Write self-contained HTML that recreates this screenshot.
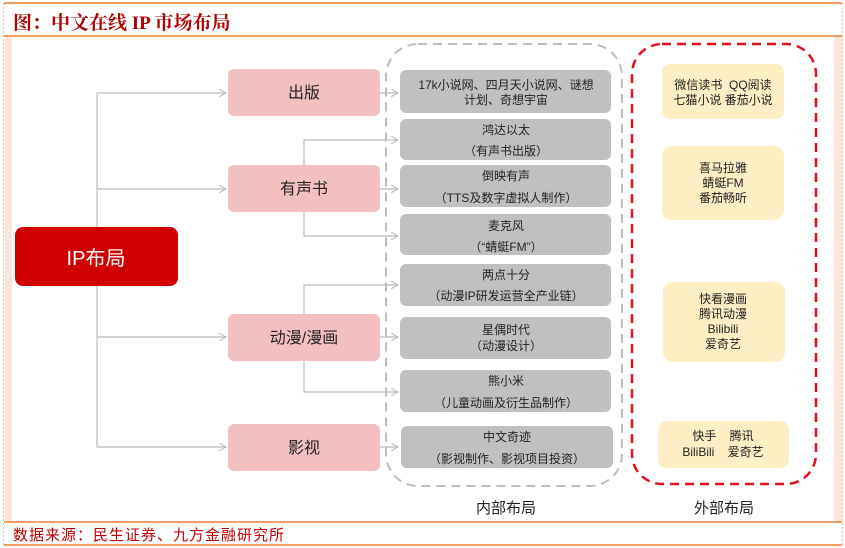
<!DOCTYPE html>
<html><head><meta charset="utf-8"><style>
body{margin:0;background:#fff;}
svg{display:block;}
text{font-family:"Liberation Sans","Noto Sans CJK SC",sans-serif;white-space:pre;}
.t{font-family:"Liberation Serif","Noto Serif CJK SC",serif;font-weight:bold;}
</style></head><body>
<svg width="845" height="548" viewBox="0 0 845 548" xmlns="http://www.w3.org/2000/svg">
<defs>
<marker id="a" markerWidth="8" markerHeight="8" refX="7" refY="4" orient="auto" markerUnits="userSpaceOnUse"><path d="M0,0 L7,4 L0,8" fill="none" stroke="#bbb" stroke-width="1"/></marker>
</defs>
<rect x="5" y="36" width="7" height="486" fill="#fde5d9"/>
<rect x="834" y="36" width="8" height="486" fill="#fde5d9"/>
<line x1="3.5" y1="3" x2="3.5" y2="545" stroke="#ccc" stroke-dasharray="2,2"/>
<line x1="842.5" y1="3" x2="842.5" y2="545" stroke="#ccc" stroke-dasharray="2,2"/>
<line x1="4" y1="3" x2="842" y2="3" stroke="#ef7d31" stroke-width="1.5"/>
<line x1="4" y1="36" x2="842" y2="36" stroke="#ef7d31" stroke-width="1.5"/>
<line x1="4" y1="522" x2="842" y2="522" stroke="#ef7d31" stroke-width="1.5"/>
<line x1="4" y1="545" x2="842" y2="545" stroke="#ef7d31" stroke-width="1.5"/>
<text class="t" x="13" y="29" font-size="19" fill="#b00000">图：中文在线 IP 市场布局</text>
<text x="13" y="540" font-size="15" fill="#c00000" font-family="'WenQuanYi Zen Hei',sans-serif" letter-spacing="1">数据来源：民生证券、九方金融研究所</text>

<rect x="386" y="44" width="236" height="442" rx="32" fill="none" stroke="#bdbdbd" stroke-width="2" stroke-dasharray="9,6"/>
<rect x="632" y="44" width="184" height="440" rx="30" fill="none" stroke="#e01020" stroke-width="2.5" stroke-dasharray="9,6"/>

<g stroke="#bbb" stroke-width="1.2" fill="none">
<polyline points="97,227 97,93 226,93" marker-end="url(#a)"/>
<line x1="97" y1="189" x2="226" y2="189" marker-end="url(#a)"/>
<polyline points="97,286 97,447 226,447" marker-end="url(#a)"/>
<line x1="97" y1="337" x2="226" y2="337" marker-end="url(#a)"/>
<line x1="380" y1="93" x2="398" y2="93" marker-end="url(#a)"/>
<line x1="380" y1="189" x2="398" y2="189" marker-end="url(#a)"/>
<line x1="380" y1="447" x2="398" y2="447" marker-end="url(#a)"/>
<line x1="380" y1="337" x2="398" y2="337" marker-end="url(#a)"/>
<polyline points="304,165 304,140 398,140" marker-end="url(#a)"/>
<polyline points="304,212 304,236 398,236" marker-end="url(#a)"/>
<polyline points="304,314 304,285 398,285" marker-end="url(#a)"/>
<polyline points="304,361 304,392 398,392" marker-end="url(#a)"/>
</g>

<rect x="15" y="227" width="163" height="59" rx="8" fill="#d10000"/>
<text x="96" y="265" font-size="20" fill="#fff" text-anchor="middle">IP布局</text>
<g fill="#f2c0c0">
<rect x="228" y="69" width="152" height="47" rx="6"/>
<rect x="228" y="165" width="152" height="47" rx="6"/>
<rect x="228" y="314" width="152" height="47" rx="6"/>
<rect x="228" y="424" width="152" height="47" rx="6"/>
</g>
<g font-size="16" fill="#222" text-anchor="middle">
<text x="304" y="98">出版</text>
<text x="304" y="194">有声书</text>
<text x="304" y="343">动漫/漫画</text>
<text x="304" y="453">影视</text>
</g>

<g fill="#c0c0c0">
<rect x="400" y="70" width="211" height="43" rx="6"/>
<rect x="400" y="119" width="211" height="41" rx="6"/>
<rect x="400" y="165" width="211" height="42" rx="6"/>
<rect x="400" y="214" width="211" height="41" rx="6"/>
<rect x="400" y="264" width="211" height="42" rx="6"/>
<rect x="400" y="317" width="211" height="42" rx="6"/>
<rect x="400" y="370" width="211" height="42" rx="6"/>
<rect x="401" y="426" width="212" height="42" rx="6"/>
</g>
<g font-size="12" fill="#222" text-anchor="middle">
<text x="506" y="89">17k小说网、四月天小说网、谜想</text>
<text x="506" y="104">计划、奇想宇宙</text>
<text x="506" y="134">鸿达以太</text>
<text x="506" y="155">（有声书出版）</text>
<text x="506" y="180">倒映有声</text>
<text x="506" y="202">（TTS及数字虚拟人制作）</text>
<text x="506" y="230">麦克风</text>
<text x="506" y="251">（“蜻蜓FM”）</text>
<text x="506" y="279">两点十分</text>
<text x="506" y="300">（动漫IP研发运营全产业链）</text>
<text x="506" y="334">星偶时代</text>
<text x="506" y="350">（动漫设计）</text>
<text x="506" y="385">熊小米</text>
<text x="506" y="407">（儿童动画及衍生品制作）</text>
<text x="507" y="441">中文奇迹</text>
<text x="507" y="463">（影视制作、影视项目投资）</text>
</g>

<g fill="#fdeec4">
<rect x="662" y="64" width="122" height="55" rx="8"/>
<rect x="662" y="146" width="122" height="74" rx="10"/>
<rect x="663" y="282" width="122" height="80" rx="10"/>
<rect x="658" y="421" width="131" height="47" rx="8"/>
</g>
<g font-size="12" fill="#222" text-anchor="middle">
<text x="723" y="89">微信读书  QQ阅读</text>
<text x="723" y="104">七猫小说 番茄小说</text>
<text x="723" y="172">喜马拉雅</text>
<text x="723" y="187">蜻蜓FM</text>
<text x="723" y="202">番茄畅听</text>
<text x="723" y="303">快看漫画</text>
<text x="723" y="318">腾讯动漫</text>
<text x="723" y="333">Bilibili</text>
<text x="723" y="348">爱奇艺</text>
<text x="723" y="440">快手    腾讯</text>
<text x="723" y="456">BiliBili    爱奇艺</text>
</g>
<text x="506" y="513" font-size="15" fill="#222" text-anchor="middle">内部布局</text>
<text x="724" y="513" font-size="15" fill="#222" text-anchor="middle">外部布局</text>
</svg>
</body></html>
